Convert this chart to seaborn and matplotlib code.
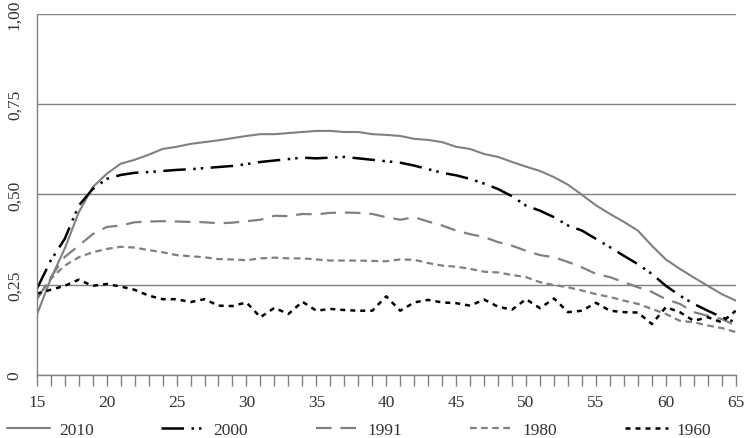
import numpy as np
import pandas as pd
import matplotlib
matplotlib.use("Agg")
import matplotlib.pyplot as plt
from matplotlib.ticker import MultipleLocator
import seaborn as sns

ages = list(range(15, 66))

y2010 = [0.166, 0.266, 0.35, 0.45, 0.52, 0.557, 0.585, 0.596, 0.61, 0.626,
         0.632, 0.64, 0.645, 0.65, 0.656, 0.662, 0.667, 0.667, 0.67, 0.673,
         0.676, 0.676, 0.673, 0.673, 0.667, 0.665, 0.662, 0.654, 0.651, 0.645,
         0.632, 0.626, 0.612, 0.604, 0.59, 0.577, 0.565, 0.548, 0.527, 0.499,
         0.47, 0.446, 0.424, 0.40, 0.358, 0.32, 0.294, 0.27, 0.247, 0.224, 0.206]
y2000 = [0.238, 0.317, 0.377, 0.469, 0.515, 0.543, 0.554, 0.56, 0.562, 0.565,
         0.568, 0.57, 0.573, 0.576, 0.579, 0.584, 0.59, 0.594, 0.598, 0.602,
         0.60, 0.602, 0.604, 0.60, 0.596, 0.592, 0.588, 0.58, 0.57, 0.56,
         0.553, 0.543, 0.53, 0.515, 0.495, 0.469, 0.455, 0.437, 0.414, 0.40,
         0.377, 0.354, 0.33, 0.307, 0.28, 0.247, 0.22, 0.197, 0.178, 0.16, 0.146]
y1991 = [0.21, 0.27, 0.327, 0.358, 0.39, 0.41, 0.414, 0.423, 0.425, 0.426,
         0.425, 0.424, 0.423, 0.42, 0.422, 0.426, 0.43, 0.441, 0.44, 0.446,
         0.445, 0.449, 0.45, 0.449, 0.446, 0.437, 0.43, 0.437, 0.425, 0.414,
         0.40, 0.39, 0.382, 0.368, 0.358, 0.344, 0.332, 0.326, 0.313, 0.298,
         0.28, 0.271, 0.257, 0.243, 0.23, 0.21, 0.197, 0.174, 0.164, 0.155, 0.137]
y1980 = [0.21, 0.266, 0.303, 0.326, 0.34, 0.349, 0.355, 0.353, 0.346, 0.34,
         0.332, 0.329, 0.326, 0.321, 0.32, 0.318, 0.323, 0.325, 0.323, 0.323,
         0.32, 0.317, 0.317, 0.317, 0.316, 0.315, 0.32, 0.319, 0.31, 0.303,
         0.30, 0.294, 0.286, 0.284, 0.277, 0.271, 0.257, 0.249, 0.243, 0.234,
         0.224, 0.216, 0.206, 0.197, 0.183, 0.169, 0.15, 0.146, 0.137, 0.13, 0.119]
y1960 = [0.225, 0.236, 0.247, 0.264, 0.247, 0.252, 0.245, 0.236, 0.22, 0.21,
         0.21, 0.202, 0.21, 0.192, 0.191, 0.201, 0.16, 0.186, 0.169, 0.203,
         0.178, 0.183, 0.18, 0.178, 0.178, 0.218, 0.178, 0.201, 0.208, 0.201,
         0.199, 0.192, 0.209, 0.189, 0.181, 0.21, 0.185, 0.212, 0.174, 0.178,
         0.20, 0.178, 0.174, 0.173, 0.141, 0.188, 0.174, 0.15, 0.16, 0.146, 0.178]

labels = ['2010', '2000', '1991', '1980', '1960']
series = [y2010, y2000, y1991, y1980, y1960]
colors = ['#808080', '#000000', '#808080', '#808080', '#000000']
styles = ['-', (0, (9, 3, 1, 2, 1, 3)), (0, (7, 4)), (0, (3, 2)), (0, (2, 2))]
widths = [1.5, 1.8, 1.6, 1.6, 1.8]

sns.set_style('white')
plt.rcParams['font.family'] = ['Liberation Serif', 'DejaVu Serif']

fig = plt.figure(figsize=(7.5, 4.39), dpi=100)
ax = fig.add_axes([0.049, 0.1435, 0.932, 0.8225])

for lab, vals, c, ls, lw in zip(labels, series, colors, styles, widths):
    df = pd.DataFrame({'age': ages, 'v': vals})
    sns.lineplot(data=df, x='age', y='v', ax=ax, color=c, linestyle=ls,
                 linewidth=lw, label=lab, legend=False)

ax.set_xlim(15, 65)
ax.set_ylim(0, 1.0)
ax.set_xlabel('')
ax.set_ylabel('')

ax.xaxis.set_major_locator(MultipleLocator(5))
ax.xaxis.set_minor_locator(MultipleLocator(1))
ax.tick_params(axis='x', which='both', direction='out', length=8, width=1,
               color='#808080', bottom=True, labelsize=12.5, pad=6)
ax.set_yticks([0, 0.25, 0.5, 0.75, 1.0])
ax.set_yticklabels(['0', '0,25', '0,50', '0,75', '1,00'], rotation=90, va='center')
ax.tick_params(axis='y', length=0, labelsize=12.5, pad=16)
for t in ax.get_yticklabels() + ax.get_xticklabels():
    t.set_color('#333333')
    t.set_ha('center')

ax.grid(axis='y', color='#808080', linewidth=1)
ax.grid(axis='x', visible=False)
for s in ['top', 'right']:
    ax.spines[s].set_visible(False)
for s in ['left', 'bottom']:
    ax.spines[s].set_color('#808080')
    ax.spines[s].set_linewidth(1)

handles = ax.get_lines()[:5]
leg = fig.legend(handles, labels, loc='center left', bbox_to_anchor=(0.009, 0.018),
                 ncol=5, frameon=False, fontsize=12.5, handlelength=2.5,
                 columnspacing=3.9, handletextpad=0.5, borderpad=0, borderaxespad=0)
for t in leg.get_texts():
    t.set_color('#333333')

fig.savefig('out.png', dpi=100)
